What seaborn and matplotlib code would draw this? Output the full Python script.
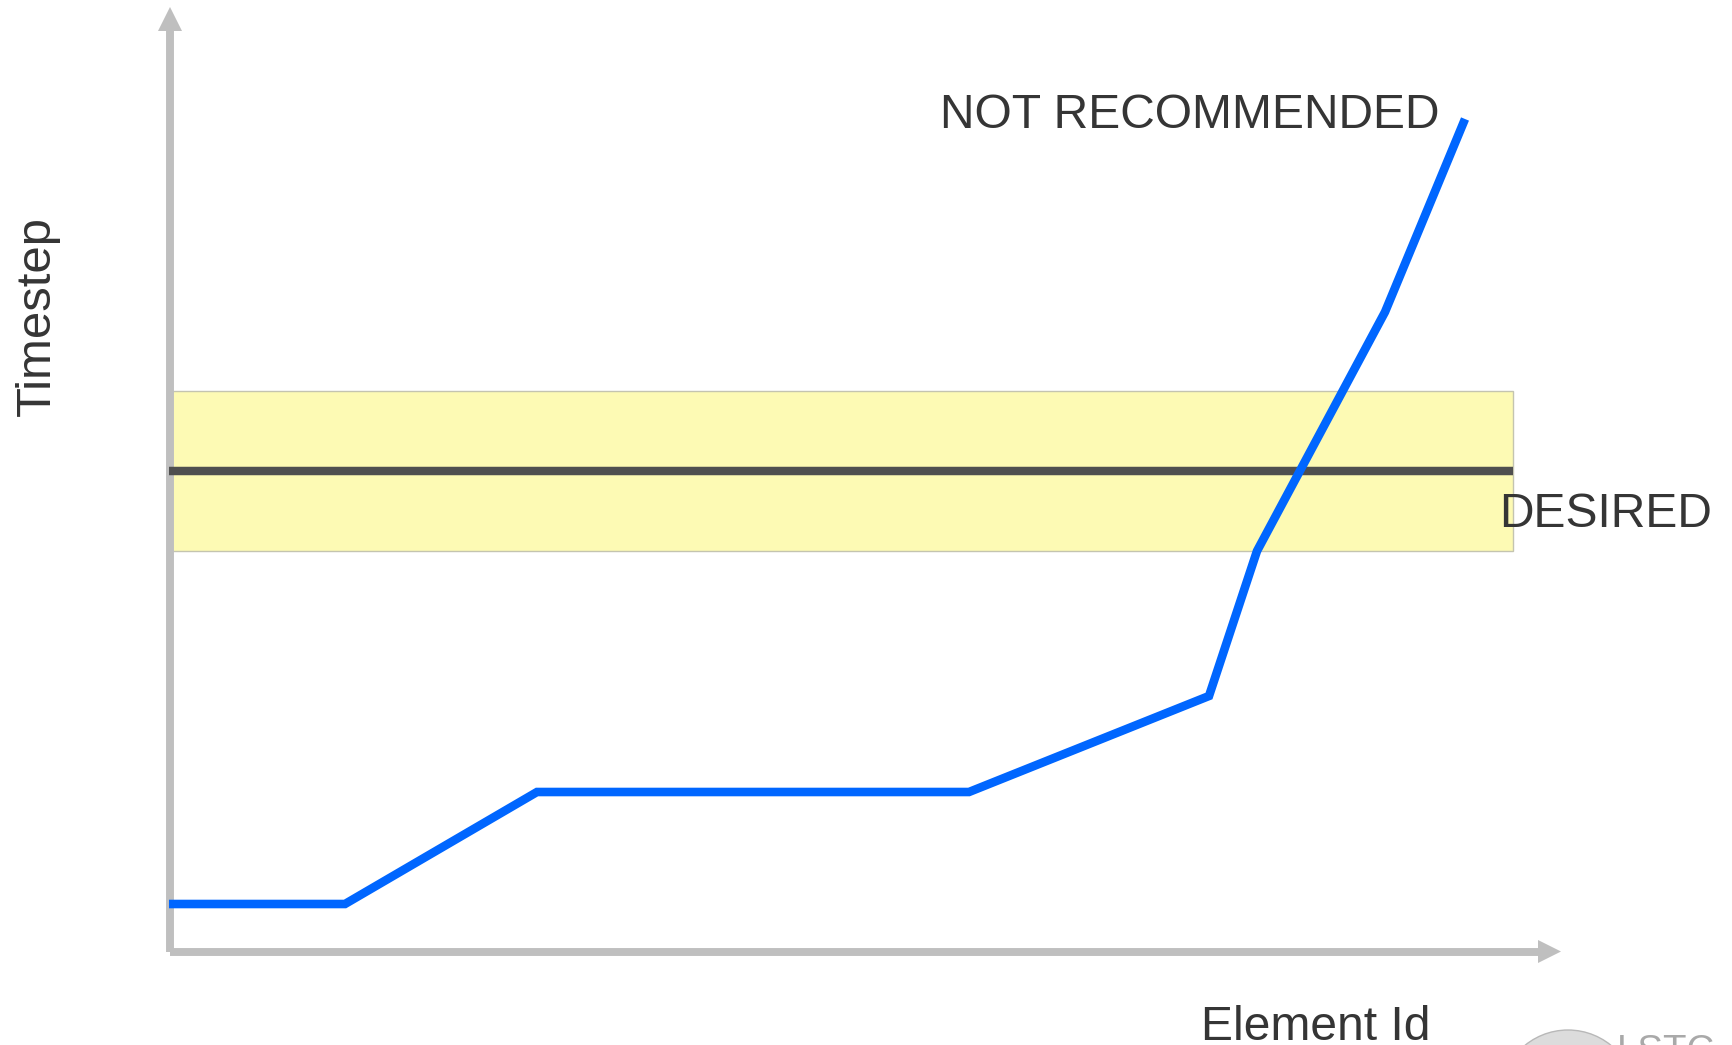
import matplotlib
matplotlib.use("Agg")
import matplotlib.pyplot as plt
from matplotlib.patches import Polygon, Rectangle, Circle
import pandas as pd
import seaborn as sns

# Values (schematic chart, no numeric scale)
element_id = [169, 345, 537, 969, 1209, 1257, 1385, 1465]
timestep = [904, 904, 792, 792, 696, 551, 312, 119]
desired_level = 471
desired_low = 551
desired_high = 391
desired_start = 172
desired_end = 1513
x_axis_start = 169
x_axis_end = 1538
y_axis_level = 951
y_axis_top = 31

x_label = "Element Id"
y_label = "Timestep"
label_desired = "DESIRED"
label_not_rec = "NOT RECOMMENDED"
logo_text = "LSTC"

GREY = "#bfbfbf"
TEXT = "#353535"

sns.set_theme(style="white", rc={"font.family": ["Liberation Sans", "DejaVu Sans"]})
plt.rcParams["font.family"] = ["Liberation Sans", "DejaVu Sans"]

fig = plt.figure(figsize=(17.33, 10.45), dpi=100, facecolor="white")
ax = fig.add_axes([0, 0, 1, 1])
ax.set_xlim(0, 1733)
ax.set_ylim(1045, 0)
ax.axis("off")

# desired band
ax.add_patch(Rectangle((desired_start, desired_high), desired_end - desired_start,
                       desired_low - desired_high, facecolor="#fdfab4",
                       edgecolor="#c4c4b0", linewidth=1, zorder=1))

# axes arrows
axis_v = pd.DataFrame({"x": [x_axis_start + 1] * 2, "y": [y_axis_level + 1, y_axis_top]})
axis_h = pd.DataFrame({"x": [x_axis_start + 1, x_axis_end], "y": [y_axis_level + 0.5] * 2})
for frame in (axis_v, axis_h):
    sns.lineplot(data=frame, x="x", y="y", ax=ax, color=GREY, linewidth=5.7,
                 solid_capstyle="butt", sort=False, estimator=None, zorder=2)
ax.add_patch(Polygon([(x_axis_end, y_axis_level - 11), (x_axis_end + 23, y_axis_level + 0.5),
                      (x_axis_end, y_axis_level + 12)], closed=True, facecolor=GREY,
                     edgecolor="none", zorder=2))
ax.add_patch(Polygon([(x_axis_start - 11, y_axis_top), (x_axis_start + 1, y_axis_top - 24),
                      (x_axis_start + 13, y_axis_top)], closed=True, facecolor=GREY,
                     edgecolor="none", zorder=2))

# desired level
level = pd.DataFrame({"x": [x_axis_start, desired_end], "y": [desired_level] * 2})
sns.lineplot(data=level, x="x", y="y", ax=ax, color="#4f4f4f", linewidth=6.1,
             solid_capstyle="butt", sort=False, estimator=None, zorder=3)

# curve
df = pd.DataFrame({"element_id": element_id, "timestep": timestep})
sns.lineplot(data=df, x="element_id", y="timestep", ax=ax, color="#0066ff", linewidth=6.2,
             sort=False, estimator=None, solid_joinstyle="miter", solid_capstyle="butt", zorder=4)

ax.set_xlim(0, 1733)
ax.set_ylim(1045, 0)
ax.axis("off")

# text
fs = 34.6
ax.text(940, 128, label_not_rec, fontsize=fs, color=TEXT, ha="left", va="baseline", zorder=5)
ax.text(1499, 527, label_desired, fontsize=fs, color=TEXT, ha="left", va="baseline", zorder=5)
ax.text(1201, 1040, x_label, fontsize=fs, color=TEXT, ha="left", va="baseline", zorder=5)
ax.text(50, 316.5, y_label, fontsize=35.4, color=TEXT, rotation=90, ha="center", va="baseline",
        rotation_mode="anchor", zorder=5)

# logo, cut by the lower edge
ax.add_patch(Circle((1568, 1098), 68, facecolor="#dcdcdc", edgecolor="#b8b8b8",
                    linewidth=1, zorder=5))
ax.text(1617, 1062, logo_text, fontsize=27.6, color="#a9a9a9", ha="left", va="baseline", zorder=5)

fig.savefig("out.png", dpi=100, facecolor="white")
